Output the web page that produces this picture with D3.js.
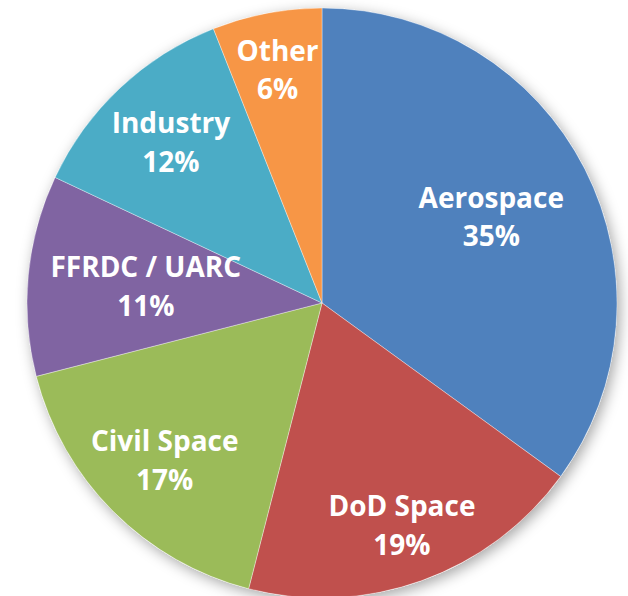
<!DOCTYPE html>
<html>
<head>
<meta charset="utf-8">
<script src="https://cdn.jsdelivr.net/npm/d3@7"></script>
<style>
  html, body { margin: 0; padding: 0; background: #fff; }
  svg { display: block; }
  .slice_label { fill: #fff; font-family: "Open Sans", sans-serif; font-weight: bold; font-size: 28px; }
</style>
</head>
<body>
<svg id="main_chart" width="628" height="596"></svg>
<script>
// CHART DATA
const categories = ['Aerospace', 'DoD Space', 'Civil Space', 'FFRDC / UARC', 'Industry', 'Other'];
const shares = [35, 19, 17, 11, 12, 6];
const colors = ['#4F81BD', '#C0504D', '#9BBB59', '#8064A2', '#4BACC6', '#F79646'];
// label distance from centre, as a fraction of the radius
const labelRadius = [0.644, 0.80, 0.754, 0.60, 0.748, 0.805];

(function() {
  const svg = d3.select('#main_chart');
  const cx = 322, cy = 303, radius = 295;

  // SOFT SHADOW UNDER THE PIE
  const defs = svg.append('defs');
  defs.append('filter')
    .attr('id', 'pie_shadow')
    .attr('x', '-10%').attr('y', '-10%')
    .attr('width', '120%').attr('height', '120%')
    .append('feDropShadow')
    .attr('dx', 3).attr('dy', 4)
    .attr('stdDeviation', 7)
    .attr('flood-color', '#000')
    .attr('flood-opacity', 0.35);

  const pie_data = d3.pie()
    .sort(null)
    .value(d => d.value)(categories.map((c, i) => ({ name: c, value: shares[i], idx: i })));

  const arc = d3.arc().innerRadius(0).outerRadius(radius);

  const pie_area = svg.append('g').attr('transform', `translate(${cx},${cy})`);

  pie_area.append('circle')
    .attr('r', radius)
    .attr('fill', '#fff')
    .attr('filter', 'url(#pie_shadow)');

  pie_area.selectAll('path.slice')
    .data(pie_data)
    .enter()
    .append('path')
    .attr('class', 'slice')
    .attr('d', arc)
    .attr('fill', d => colors[d.data.idx])
    .attr('stroke', 'rgba(255,255,255,0.45)')
    .attr('stroke-width', 0.8);

  // SET SLICE LABELS
  const labels = pie_area.selectAll('text.slice_label')
    .data(pie_data)
    .enter()
    .append('text')
    .attr('class', 'slice_label')
    .attr('text-anchor', 'middle')
    .attr('transform', function(d) {
      const r = radius * labelRadius[d.data.idx];
      const pos = d3.arc().innerRadius(r).outerRadius(r).centroid(d);
      return `translate(${pos[0]},${pos[1]})`;
    });

  labels.append('tspan').attr('x', 0).attr('y', -9).text(d => d.data.name);
  labels.append('tspan').attr('x', 0).attr('y', 29.5).text(d => `${d.data.value}%`);
})();
</script>
</body>
</html>
